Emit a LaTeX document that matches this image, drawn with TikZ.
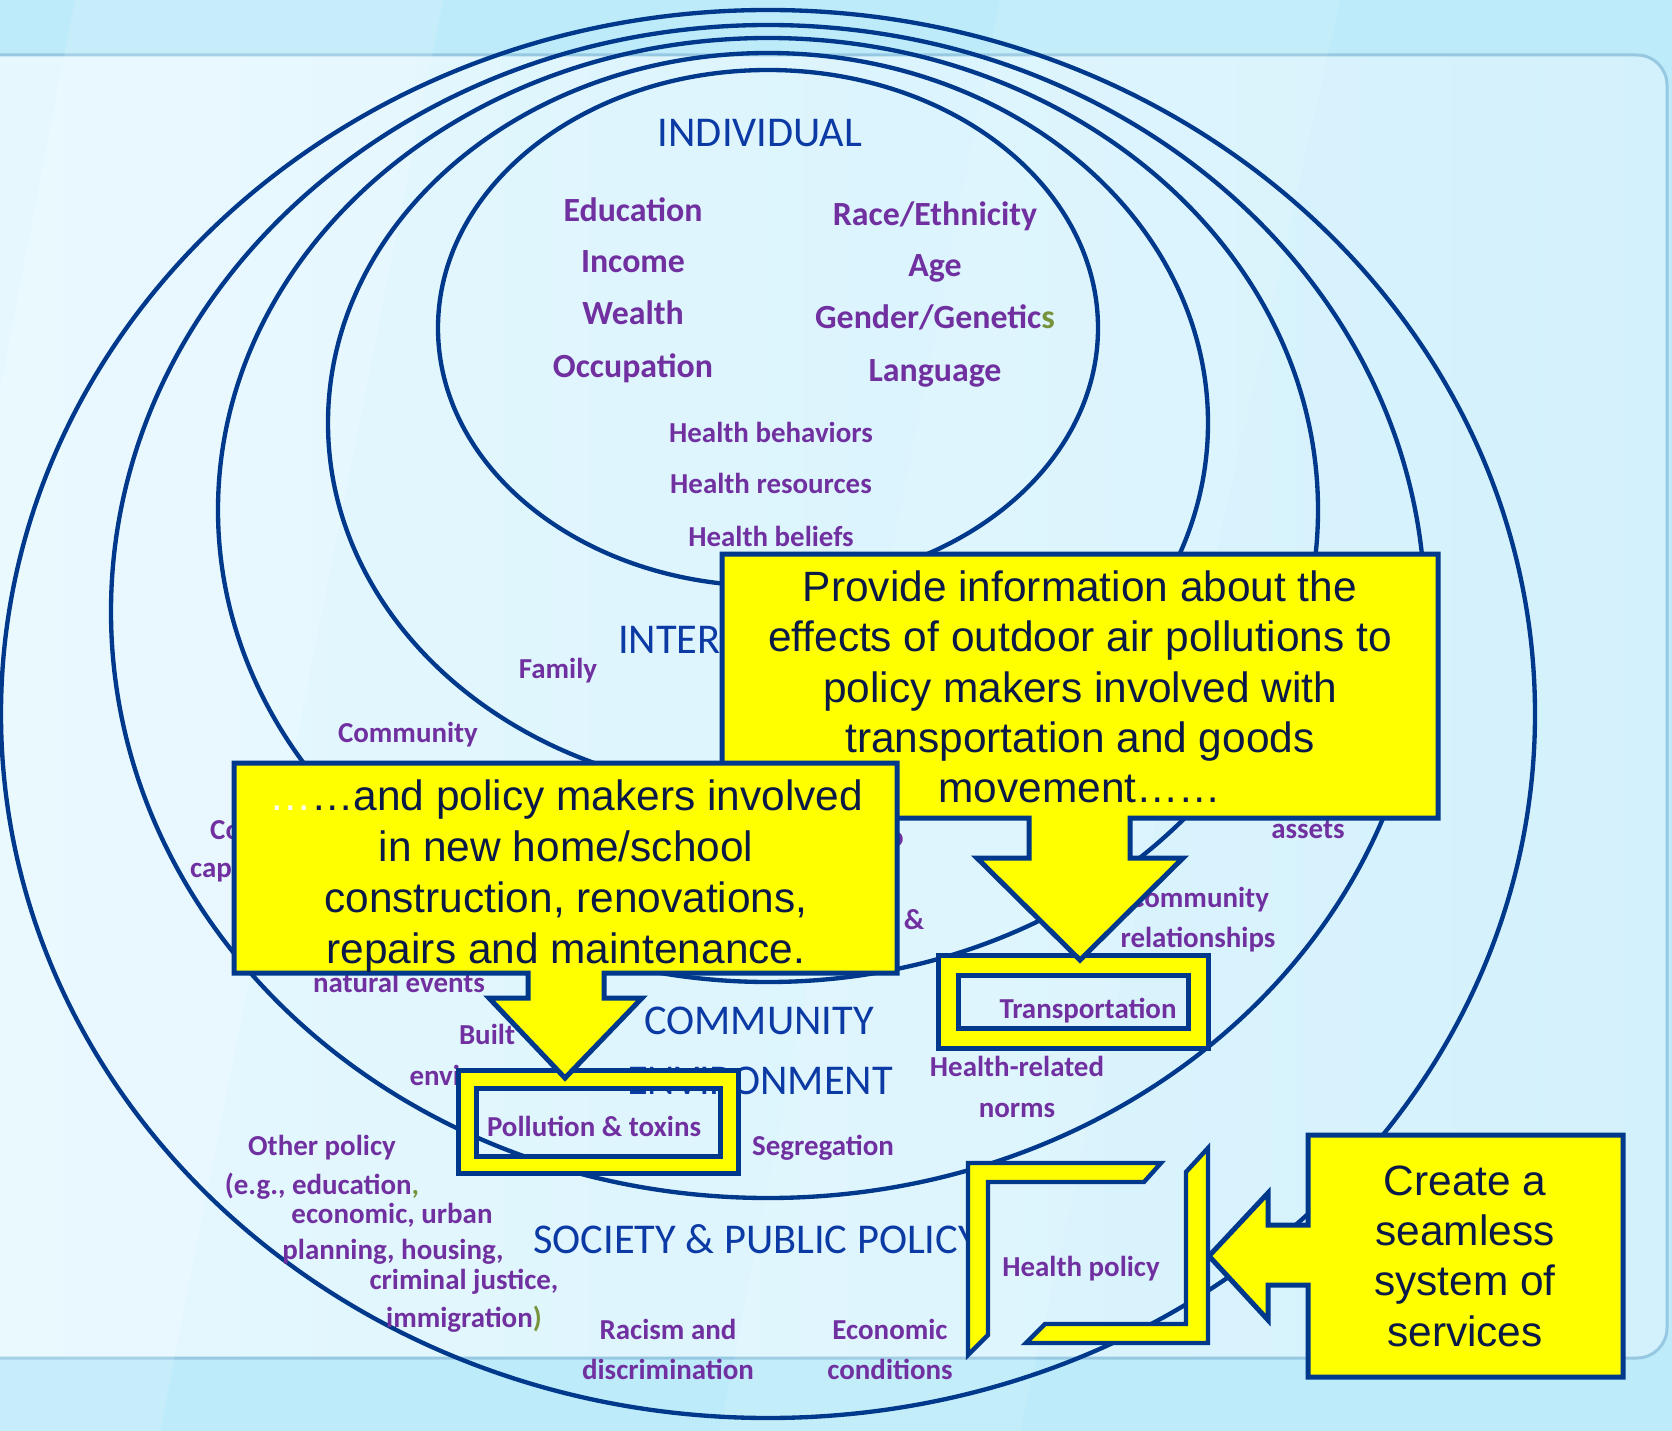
\documentclass[tikz,border=0pt]{standalone}
\usepackage{fontspec}
\setmainfont{Carlito}
\newfontfamily\arialfont{Liberation Sans}
\usetikzlibrary{positioning}

\definecolor{ringblue}{RGB}{0,56,140}
\definecolor{layerblue}{RGB}{12,58,165}
\definecolor{labelpurple}{RGB}{112,48,160}
\definecolor{olivegreen}{RGB}{119,147,60}
\definecolor{calloutyellow}{RGB}{255,255,0}
\definecolor{callouttext}{RGB}{10,25,70}
\definecolor{skyback}{RGB}{190,235,250}
\definecolor{panelleft}{RGB}{231,248,254}
\definecolor{panelright}{RGB}{211,241,252}
\definecolor{panelrim}{RGB}{150,200,225}

\begin{document}
\begin{tikzpicture}[x=0.3mm, y=-0.3mm,
    ring/.style={draw=ringblue, line width=1.3mm},
    layer/.style={text=layerblue, font=\fontsize{36.2}{40}\selectfont,
      text height=23.1pt, text depth=0pt, inner sep=0pt},
    factor/.style={text=labelpurple, font=\bfseries\fontsize{24.7}{30}\selectfont,
      text height=14.8pt, text depth=0pt, inner sep=0pt},
    bigfactor/.style={text=labelpurple, font=\bfseries\fontsize{28.9}{34}\selectfont,
      text height=17.3pt, text depth=0pt, inner sep=0pt},
    callout/.style={fill=calloutyellow, draw=ringblue, line width=1.5mm, line join=miter},
    hollowbox/.style={callout, even odd rule},
    callouttxt/.style={text=callouttext, align=center, inner sep=0pt,
      font=\arialfont\fontsize{36.2}{43}\selectfont}]

  \useasboundingbox (0,0) rectangle (1672,1431);
  \clip (0,0) rectangle (1672,1431);

  % background and slide panel
  \fill[skyback] (0,0) rectangle (1672,1431);
  \path[draw=panelrim, line width=.9mm, left color=panelleft, right color=panelright,
    rounded corners=9mm] (-60,55) rectangle (1667,1358);
  \fill[white, opacity=.15] (75,0) -- (443,0) -- (160,1431) -- (-200,1431) -- cycle;
  \fill[white, opacity=.10] (1000,0) -- (1340,0) -- (1020,1431) -- (720,1431) -- cycle;

  % nested levels
  \foreach \cy/\rx/\ry in {328/330/258, 423/440/370, 510/550/472, 611.5/657/586.5, 714/767/704}
    \draw[ring] (768,\cy) ellipse [x radius=\rx, y radius=\ry];

  % level names
  \node[layer] (individual) at (760,133) {INDIVIDUAL};
  \node[layer, anchor=west] (interpersonal) at (618,640) {INTER};
  \node[layer] (community) at (759,1021) {COMMUNITY};
  \node[layer] (environment) at (760,1081) {ENVIRONMENT};
  \node[layer, anchor=west] (society) at (533,1240) {SOCIETY \& PUBLIC POLICY};

  % individual factors
  \node[bigfactor] (education) at (633,211) {Education};
  \node[bigfactor] (income) at (633,262) {Income};
  \node[bigfactor] (wealth) at (633,314) {Wealth};
  \node[bigfactor] (occupation) at (633,367) {Occupation};
  \node[bigfactor] (race) at (935,215) {Race/Ethnicity};
  \node[bigfactor] (age) at (935,266) {Age};
  \node[bigfactor] (gender) at (935,318) {Gender/Genetic{\color{olivegreen}s}};
  \node[bigfactor] (language) at (935,371) {Language};
  \node[factor] (behaviors) at (771,434) {Health behaviors};
  \node[factor] (resources) at (771,485) {Health resources};
  \node[factor] (beliefs) at (771,538) {Health beliefs};

  % interpersonal and community factors
  \node[factor] (family) at (558,670) {Family};
  \node[factor] (communityA) at (408,734) {Community};
  \node[factor, anchor=west] (coA) at (210,831) {Co};
  \node[factor, anchor=west] (capA) at (190,869) {cap};
  \node[factor] (partO) at (896,838) {o};
  \node[factor] (amp) at (914,921) {\&};
  \node[factor] (assets) at (1308,830) {assets};
  \node[factor] (communityB) at (1199,899) {Community};
  \node[factor] (relations) at (1198,939) {relationships};
  \node[factor] (natural) at (399,984) {natural events};
  \node[factor] (built) at (487,1036) {Built};
  \node[factor] (builtenv) at (487,1077) {environment};
  \node[factor] (transport) at (1088,1010) {Transportation};
  \node[factor] (norms) at (1017,1068) {Health-related};
  \node[factor] (normsB) at (1017,1109) {norms};
  \node[factor] (pollution) at (594,1128) {Pollution \& toxins};
  \node[factor] (segregation) at (823,1147) {Segregation};

  % society and public policy factors
  \node[factor] (otherpol) at (322,1147) {Other policy};
  \node[factor] (eg) at (322,1186) {(e.g., education{\color{olivegreen},}};
  \node[factor] (economicA) at (392,1215) {economic, urban};
  \node[factor] (planning) at (393,1251) {planning, housing,};
  \node[factor] (criminal) at (464,1281) {criminal justice,};
  \node[factor] (immigration) at (464,1319) {immigration{\color{olivegreen})}};
  \node[factor] (racism) at (668,1331) {Racism and};
  \node[factor] (discrim) at (668,1371) {discrimination};
  \node[factor] (economicB) at (890,1331) {Economic};
  \node[factor] (conditions) at (890,1371) {conditions};
  \node[factor] (healthpol) at (1081,1268) {Health policy};

  % highlighted frames
  \path[hollowbox] (938,955) rectangle (1208,1048) (958,975) rectangle (1188,1028);
  \path[hollowbox] (458,1070) rectangle (738,1173) (476,1088) rectangle (720,1156);

  % callout: transportation
  \path[callout] (722,554) -- (1438,554) -- (1438,818) -- (1130,818) -- (1130,858)
    -- (1183,858) -- (1080,960) -- (977,858) -- (1029,858) -- (1029,818)
    -- (722,818) -- cycle;
  \node[callouttxt] (transportmsg) at (1080,687) {Provide information about the\\
    effects of outdoor air pollutions to\\policy makers involved with\\
    transportation and goods\\movement……};

  % callout: housing and schools
  \path[callout] (234,763) -- (897,763) -- (897,973) -- (604,973) -- (604,998)
    -- (642,998) -- (565,1078) -- (489,998) -- (528,998) -- (528,973)
    -- (234,973) -- cycle;
  \node[callouttxt, font=\arialfont\fontsize{36.2}{43.8}\selectfont] (housingmsg) at (566,876)
    {{\color{white}…}…and policy makers involved\\in new home/school\\
    construction, renovations,\\repairs and maintenance.};

  % brackets round health policy
  \path[callout, line width=1.3mm] (968,1163) -- (1161,1163) -- (1144,1182) -- (988,1182)
    -- (988,1335) -- (968,1355) -- cycle;
  \path[callout, line width=1.3mm] (1208,1343) -- (1208,1148) -- (1186,1172) -- (1186,1324)
    -- (1045,1324) -- (1026,1343) -- cycle;

  % callout: seamless system
  \path[callout] (1308,1135) -- (1623,1135) -- (1623,1377) -- (1308,1377) -- (1308,1285)
    -- (1268,1285) -- (1268,1320) -- (1209,1256) -- (1268,1193) -- (1268,1225)
    -- (1308,1225) -- cycle;
  \node[callouttxt] (seamlessmsg) at (1465,1256) {Create a\\seamless\\system of\\services};
\end{tikzpicture}
\end{document}
